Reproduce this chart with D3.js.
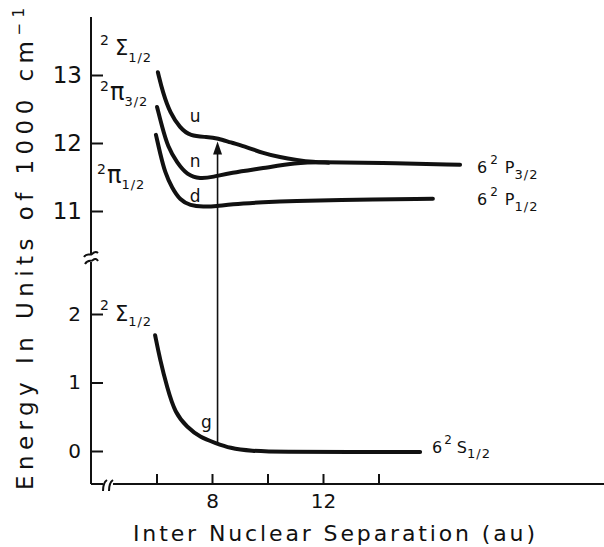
<!DOCTYPE html>
<html>
<head>
<meta charset="utf-8">
<script src="https://cdn.jsdelivr.net/npm/d3@7"></script>
<style>
  body { margin: 0; background: #fff; }
  text { font-family: "DejaVu Sans", sans-serif; fill: #111; }
</style>
</head>
<body>
<div id="chart"></div>
<script>
// potential curves, [separation (au), energy (1000 cm^-1)]
var curveU = [[6.05,13.04],[6.23,12.74],[6.49,12.44],[6.85,12.22],[7.21,12.10],[7.82,12.09],[8.22,12.07],[8.65,12.01],[9.26,11.94],[9.84,11.85],[10.45,11.79],[11.06,11.75],[11.64,11.72],[12.2,11.71]];
var curveN = [[6.02,12.53],[6.20,12.24],[6.41,11.94],[6.74,11.71],[7.10,11.53],[7.57,11.47],[8.04,11.50],[8.65,11.56],[9.84,11.63],[11.06,11.71],[11.78,11.72],[14.05,11.71],[16.94,11.68]];
var curveD = [[5.98,12.12],[6.13,11.85],[6.31,11.56],[6.56,11.34],[6.85,11.16],[7.21,11.08],[7.68,11.06],[8.18,11.07],[8.65,11.10],[9.84,11.13],[11.06,11.15],[12.25,11.16],[15.96,11.18]];
var curveG = [[5.95,1.69],[6.13,1.33],[6.38,0.93],[6.67,0.55],[7.10,0.35],[7.57,0.20],[8.11,0.12],[8.65,0.04],[9.37,0.0],[10.56,-0.015],[12.97,-0.015],[15.50,-0.015]];

// transition arrow: separation, lower energy, upper energy
var arrowR = 8.2, arrowFrom = 0.1, arrowTo = 12.05;

var upperTicks = [11, 12, 13];
var lowerTicks = [0, 1, 2];
var xTicks = [6, 8, 10, 12, 14];
var xTickLabels = [8, 12];

var curveNames = ["u", "n", "d", "g"];
var curveNamePos = [[7.2, 12.31], [7.2, 11.65], [7.2, 11.13], [7.6, 0.34]];

var width = 604, height = 547;
var axisX = 91, axisY = 484;

var svg = d3.select("#chart").append("svg")
    .attr("width", width)
    .attr("height", height);

// scales (broken energy axis: upper and lower pieces)
var x = d3.scaleLinear().domain([8, 12]).range([212, 323]);
var yHi = d3.scaleLinear().domain([11, 13]).range([211, 75]);
var yLo = d3.scaleLinear().domain([0, 2]).range([451, 314]);

// axis lines
svg.append("line").attr("x1", axisX).attr("x2", axisX).attr("y1", 17).attr("y2", 255)
    .style("stroke", "#111").style("stroke-width", 2);
svg.append("line").attr("x1", axisX).attr("x2", axisX).attr("y1", 262).attr("y2", axisY)
    .style("stroke", "#111").style("stroke-width", 2);
svg.append("line").attr("x1", axisX).attr("x2", 103).attr("y1", axisY).attr("y2", axisY)
    .style("stroke", "#111").style("stroke-width", 2);
svg.append("line").attr("x1", 113).attr("x2", width).attr("y1", axisY).attr("y2", axisY)
    .style("stroke", "#111").style("stroke-width", 2);

// break marks
svg.append("path")
    .attr("d", "M84,257 C87,252 90,256 92,254 C94,252 96,251 98,253 M85,264 C88,259 91,262 93,260 C95,258 97,259 98,261")
    .style("fill", "none").style("stroke", "#111").style("stroke-width", 2);
svg.append("path")
    .attr("d", "M103,491 C103,486 104,482 107,480 M109,491 C109,486 110,482 113,480")
    .style("fill", "none").style("stroke", "#111").style("stroke-width", 2);

// y ticks
var gHi = svg.append("g")
    .attr("transform", "translate(" + axisX + ",0)")
    .call(d3.axisLeft(yHi).tickValues(upperTicks).tickSize(-12).tickPadding(9).tickFormat(d3.format("d")));
gHi.selectAll("text").style("font-size", "23px");

var gLo = svg.append("g")
    .attr("transform", "translate(" + axisX + ",0)")
    .call(d3.axisLeft(yLo).tickValues(lowerTicks).tickSize(-12).tickPadding(10).tickFormat(d3.format("d")));
gLo.selectAll("text").style("font-size", "20px");

// x ticks
var gx = svg.append("g")
    .attr("transform", "translate(0," + axisY + ")")
    .call(d3.axisBottom(x).tickValues(xTicks).tickSize(-10).tickPadding(10)
        .tickFormat(function(d) { return xTickLabels.indexOf(d) >= 0 ? d : ""; }));
gx.selectAll("text").style("font-size", "20px");

svg.selectAll(".domain").remove();
svg.selectAll(".tick line").style("stroke", "#111").style("stroke-width", 2);
svg.selectAll(".tick text").style("fill", "#111").style("font-family", "DejaVu Sans, sans-serif");

// curves
var lineHi = d3.line()
    .x(function(d) { return x(d[0]); })
    .y(function(d) { return yHi(d[1]); })
    .curve(d3.curveBasis);
var lineLo = d3.line()
    .x(function(d) { return x(d[0]); })
    .y(function(d) { return yLo(d[1]); })
    .curve(d3.curveBasis);

[curveU, curveN, curveD].forEach(function(c) {
    svg.append("path").attr("d", lineHi(c))
        .style("fill", "none").style("stroke", "#111")
        .style("stroke-width", 4).style("stroke-linecap", "round");
});
svg.append("path").attr("d", lineLo(curveG))
    .style("fill", "none").style("stroke", "#111")
    .style("stroke-width", 4).style("stroke-linecap", "round");

// transition arrow
var ax = x(arrowR), tipY = yHi(arrowTo) + 2;
svg.append("line")
    .attr("x1", ax).attr("x2", ax)
    .attr("y1", yLo(arrowFrom)).attr("y2", tipY + 8)
    .style("stroke", "#111").style("stroke-width", 1.6);
svg.append("path")
    .attr("d", "M" + ax + "," + tipY + " L" + (ax - 4.5) + "," + (tipY + 13) + " L" + (ax + 4.5) + "," + (tipY + 13) + " Z")
    .style("fill", "#111");

// curve names
svg.selectAll(".cname")
    .data(curveNames)
    .enter().append("text")
    .attr("class", "cname")
    .attr("x", function(d, i) { return x(curveNamePos[i][0]); })
    .attr("y", function(d, i) { return i < 3 ? yHi(curveNamePos[i][1]) : yLo(curveNamePos[i][1]); })
    .style("font-size", "17px")
    .text(function(d) { return d; });

// term symbol labels
function term(xp, yp, parts) {
    var t = svg.append("text").attr("x", xp).attr("y", yp);
    parts.forEach(function(p) {
        t.append("tspan")
            .attr("dy", p.dy || 0)
            .attr("dx", p.dx || 0)
            .style("font-size", p.size + "px")
            .style("letter-spacing", p.ls || 0)
            .text(p.t);
    });
    return t;
}

term(100, 55, [{t: "2", size: 14, dy: -10}, {t: "\u03A3", size: 21, dy: 10, dx: 6}, {t: "1/2", size: 13, dy: 7, ls: 1}]);
term(100, 100, [{t: "2", size: 14, dy: -9}, {t: "\u03C0", size: 24, dy: 9, dx: 1}, {t: "3/2", size: 13, dy: 6, ls: 1}]);
term(97, 183, [{t: "2", size: 14, dy: -9}, {t: "\u03C0", size: 24, dy: 9, dx: 1}, {t: "1/2", size: 13, dy: 6, ls: 1}]);
term(100, 321, [{t: "2", size: 14, dy: -11}, {t: "\u03A3", size: 21, dy: 11, dx: 6}, {t: "1/2", size: 13, dy: 5, ls: 1}]);

term(477, 173, [{t: "6", size: 16}, {t: "2", size: 12, dy: -9, dx: 3}, {t: "P", size: 16, dy: 9, dx: 7}, {t: "3/2", size: 13, dy: 6, ls: 1}]);
term(477, 205, [{t: "6", size: 16}, {t: "2", size: 12, dy: -9, dx: 3}, {t: "P", size: 16, dy: 9, dx: 7}, {t: "1/2", size: 13, dy: 6, ls: 1}]);
term(432, 453, [{t: "6", size: 16}, {t: "2", size: 12, dy: -9, dx: 2}, {t: "S", size: 16, dy: 9, dx: 5}, {t: "1/2", size: 13, dy: 5, ls: 1}]);

// axis titles
svg.append("text")
    .attr("x", 133).attr("y", 541)
    .attr("textLength", 402).attr("lengthAdjust", "spacing")
    .style("font-size", "22px")
    .text("Inter Nuclear Separation (au)");

var yt = svg.append("text")
    .attr("transform", "translate(33,490) rotate(-90)")
    .attr("textLength", 482).attr("lengthAdjust", "spacing")
    .style("font-size", "23px");
yt.append("tspan").text("Energy In Units of 1000 cm");
yt.append("tspan").attr("dy", -9).style("font-size", "15px").text("\u22121");
</script>
</body>
</html>
